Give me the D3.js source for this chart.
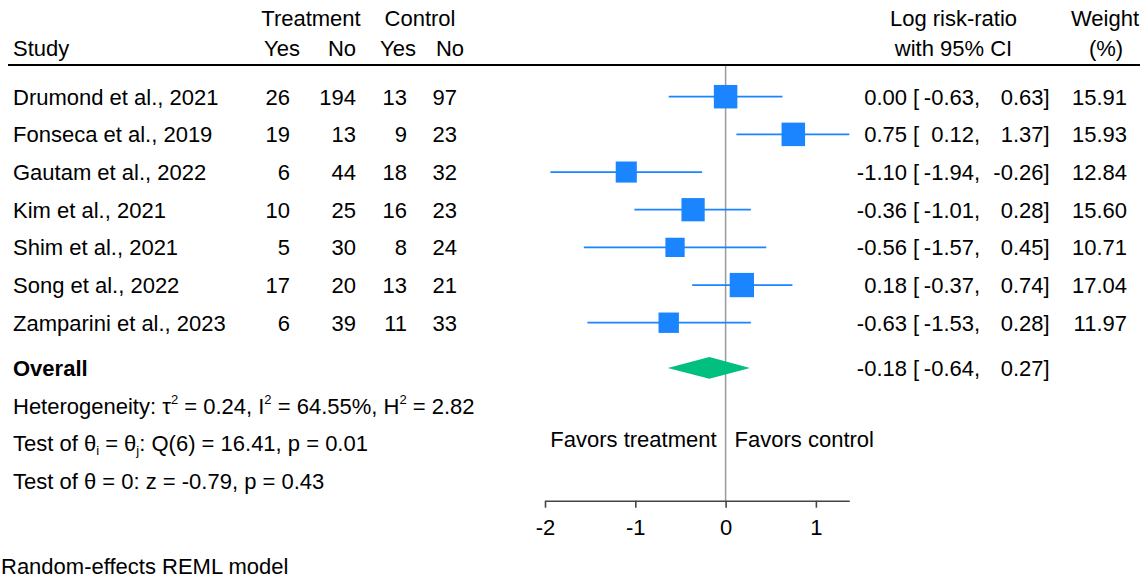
<!DOCTYPE html>
<html>
<head>
<meta charset="utf-8">
<script src="https://cdn.jsdelivr.net/npm/d3@7"></script>
<style>
  body { margin: 0; background: #fff; }
  svg { display: block; }
  text { font-family: "Liberation Sans", Arial, Helvetica, sans-serif; font-size: 22px; fill: #000; }
</style>
</head>
<body>
<svg id="chart" width="1140" height="579"></svg>
<script>
// Study-level data
const studies   = ["Drumond et al., 2021", "Fonseca et al., 2019", "Gautam et al., 2022", "Kim et al., 2021",
                   "Shim et al., 2021", "Song et al., 2022", "Zamparini et al., 2023"];
const treatYes  = [26, 19, 6, 10, 5, 17, 6];
const treatNo   = [194, 13, 44, 25, 30, 20, 39];
const ctrlYes   = [13, 9, 18, 16, 8, 13, 11];
const ctrlNo    = [97, 23, 32, 23, 24, 21, 33];
const logRR     = [0.00, 0.75, -1.10, -0.36, -0.56, 0.18, -0.63];
const ciLow     = [-0.63, 0.12, -1.94, -1.01, -1.57, -0.37, -1.53];
const ciHigh    = [0.63, 1.37, -0.26, 0.28, 0.45, 0.74, 0.28];
const weights   = [15.91, 15.93, 12.84, 15.60, 10.71, 17.04, 11.97];

// Pooled estimate and model statistics
const overallEst  = -0.18;
const overallLow  = -0.64;
const overallHigh = 0.27;
const tau2 = 0.24, iSq = 64.55, hSq = 2.82;
const qStat = 16.41, qDf = 6, qP = 0.01;
const zStat = -0.79, zP = 0.43;

const xTicks = [-2, -1, 0, 1];
const xDomain = [-2, 1.37];

// Plain hyphen-minus for negative numbers
const loc = d3.formatLocale({decimal: ".", thousands: ",", grouping: [3], currency: ["", ""], minus: "-"});
const f2 = loc.format(".2f");
const svg = d3.select("#chart");

// Scales
const x = d3.scaleLinear().domain(xDomain).range([545, 849.3]);
const row = d3.scaleLinear().domain([0, 1]).range([96.7, 134.37]);
const side = d3.scaleSqrt().domain([0, d3.max(weights)]).range([0, 24.3]);

const overallRow = 7.2;
const axisY = 500.7;
const ruleY = 65;
const mid = "0.36em";

// Column headers
const header = svg.append("g");
const hdr = [
  {t: "Treatment", x: 311, y: 26, a: "middle"},
  {t: "Control", x: 420, y: 26, a: "middle"},
  {t: "Study", x: 13, y: 56, a: "start"},
  {t: "Yes", x: 300, y: 56, a: "end"},
  {t: "No", x: 356, y: 56, a: "end"},
  {t: "Yes", x: 416, y: 56, a: "end"},
  {t: "No", x: 464, y: 56, a: "end"},
  {t: "Log risk-ratio", x: 953.5, y: 26, a: "middle"},
  {t: "with 95% CI", x: 953.5, y: 56, a: "middle"},
  {t: "Weight", x: 1105, y: 26, a: "middle"},
  {t: "(%)", x: 1106, y: 56, a: "middle"}
];
header.selectAll("text").data(hdr).join("text")
  .attr("x", d => d.x).attr("y", d => d.y)
  .attr("text-anchor", d => d.a).text(d => d.t);

// Zero reference line
svg.append("line")
  .attr("x1", x(0)).attr("x2", x(0))
  .attr("y1", ruleY).attr("y2", axisY)
  .attr("stroke", "#9a9a9a").attr("stroke-width", 1.5);

// Header rule
svg.append("line")
  .attr("x1", 8).attr("x2", 1140).attr("y1", ruleY).attr("y2", ruleY)
  .attr("stroke", "#000").attr("stroke-width", 2);

// Table rows
const idx = d3.range(studies.length);
const rowsG = svg.append("g");
const textCols = [
  {vals: studies, x: 13, a: "start"},
  {vals: treatYes, x: 290, a: "end"},
  {vals: treatNo, x: 356, a: "end"},
  {vals: ctrlYes, x: 407, a: "end"},
  {vals: ctrlNo, x: 457, a: "end"},
  {vals: weights.map(f2), x: 1127, a: "end"}
];
textCols.forEach(c => {
  rowsG.append("g").selectAll("text").data(idx).join("text")
    .attr("x", c.x).attr("y", i => row(i)).attr("dy", mid)
    .attr("text-anchor", c.a).text(i => c.vals[i]);
});

// Effect size with CI, laid out as "est [ lo,  hi]"
function ciText(g, y, est, lo, hi) {
  g.append("text").attr("x", 907).attr("y", y).attr("dy", mid).attr("text-anchor", "end").text(f2(est));
  g.append("text").attr("x", 913).attr("y", y).attr("dy", mid).text("[");
  g.append("text").attr("x", 974).attr("y", y).attr("dy", mid).attr("text-anchor", "end").text(f2(lo));
  g.append("text").attr("x", 974).attr("y", y).attr("dy", mid).text(",");
  g.append("text").attr("x", 1043.5).attr("y", y).attr("dy", mid).attr("text-anchor", "end").text(f2(hi));
  g.append("text").attr("x", 1043.5).attr("y", y).attr("dy", mid).text("]");
}
idx.forEach(i => ciText(rowsG, row(i), logRR[i], ciLow[i], ciHigh[i]));
ciText(rowsG, row(overallRow), overallEst, overallLow, overallHigh);

// CI whiskers and weighted squares
const marks = svg.append("g");
marks.selectAll("line").data(idx).join("line")
  .attr("x1", i => x(ciLow[i])).attr("x2", i => x(ciHigh[i]))
  .attr("y1", i => row(i)).attr("y2", i => row(i))
  .attr("stroke", "#1A85FF").attr("stroke-width", 1.8);
marks.selectAll("rect").data(idx).join("rect")
  .attr("x", i => x(logRR[i]) - side(weights[i]) / 2)
  .attr("y", i => row(i) - side(weights[i]) / 2)
  .attr("width", i => side(weights[i]))
  .attr("height", i => side(weights[i]))
  .attr("fill", "#1A85FF");

// Overall diamond
const oy = row(overallRow);
svg.append("path")
  .attr("d", `M${x(overallLow)},${oy} L${x(overallEst)},${oy - 10.8} L${x(overallHigh)},${oy} L${x(overallEst)},${oy + 10.8} Z`)
  .attr("fill", "#00BF7F");

svg.append("text").attr("x", 13).attr("y", oy).attr("dy", mid)
  .attr("font-weight", "bold").text("Overall");

// Model statistics
const stats = svg.append("g");
let t1 = stats.append("text").attr("x", 13).attr("y", row(overallRow + 1)).attr("dy", mid);
t1.append("tspan").text("Heterogeneity: τ");
t1.append("tspan").attr("font-size", "13px").attr("dy", -10).text("2");
t1.append("tspan").attr("dy", 10).text(` = ${f2(tau2)}, I`);
t1.append("tspan").attr("font-size", "13px").attr("dy", -10).text("2");
t1.append("tspan").attr("dy", 10).text(` = ${f2(iSq)}%, H`);
t1.append("tspan").attr("font-size", "13px").attr("dy", -10).text("2");
t1.append("tspan").attr("dy", 10).text(` = ${f2(hSq)}`);

let t2 = stats.append("text").attr("x", 13).attr("y", row(overallRow + 2)).attr("dy", mid);
t2.append("tspan").text("Test of θ");
t2.append("tspan").attr("font-size", "13px").attr("dy", 4).text("i");
t2.append("tspan").attr("dy", -4).text(" = θ");
t2.append("tspan").attr("font-size", "13px").attr("dy", 4).text("j");
t2.append("tspan").attr("dy", -4).text(`: Q(${qDf}) = ${f2(qStat)}, p = ${f2(qP)}`);

stats.append("text").attr("x", 13).attr("y", row(overallRow + 3)).attr("dy", mid)
  .text(`Test of θ = 0: z = ${f2(zStat)}, p = ${f2(zP)}`);

// Favors labels
svg.append("text").attr("x", x(0) - 9).attr("y", 447).attr("text-anchor", "end").text("Favors treatment");
svg.append("text").attr("x", x(0) + 9).attr("y", 447).text("Favors control");

// X axis
const axis = svg.append("g").attr("transform", `translate(0,${axisY})`)
  .call(d3.axisBottom(x).tickValues(xTicks).tickFormat(loc.format("d")).tickSize(7).tickSizeOuter(0).tickPadding(12));
axis.select(".domain").attr("stroke", "#444").attr("stroke-width", 1.6);
axis.selectAll(".tick line").attr("stroke", "#444").attr("stroke-width", 1.6);
axis.selectAll(".tick text").attr("font-size", "22px").attr("font-family", null).attr("fill", "#000");

// Model note
svg.append("text").attr("x", 1).attr("y", 574).text("Random-effects REML model");
</script>
</body>
</html>
